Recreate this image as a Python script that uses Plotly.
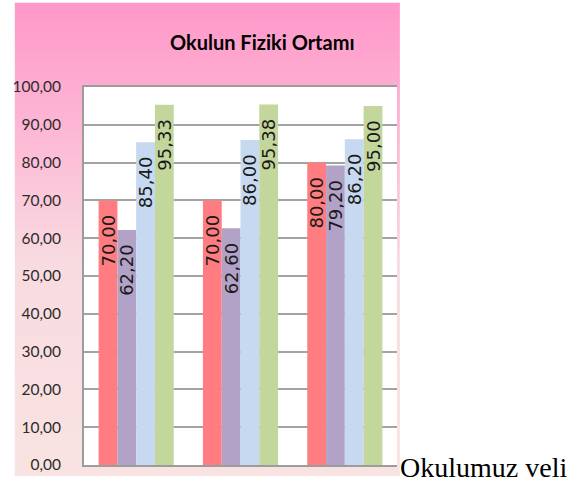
import base64
import plotly.graph_objects as go

# ---- data ----
categories = ["1", "2", "3"]
series_names = ["Seri 1", "Seri 2", "Seri 3", "Seri 4"]
series_1 = [70.00, 70.00, 80.00]
series_2 = [62.20, 62.60, 79.20]
series_3 = [85.40, 86.00, 86.20]
series_4 = [95.33, 95.38, 95.00]
y_ticks = [0, 10, 20, 30, 40, 50, 60, 70, 80, 90, 100]
title_text = "Okulun Fiziki Ortamı"
side_text = "Okulumuz veli"

series_values = [series_1, series_2, series_3, series_4]
colors = ["#FF7C80", "#B3A2C7", "#C6D9F1", "#C3D69B"]

PAD_SPAN = '<span style="color:rgba(0,0,0,0)">0</span>'


def fmt(v):
    return f"{v:.2f}".replace(".", ",") + PAD_SPAN


fig = go.Figure()
for name, vals, col in zip(series_names, series_values, colors):
    fig.add_trace(go.Bar(
        x=categories, y=vals, name=name,
        marker=dict(color=col, line=dict(width=0)),
        text=[fmt(v) for v in vals],
        textposition="inside", insidetextanchor="end",
        textangle=-90, constraintext="none",
        textfont=dict(family="DejaVu Sans", size=18, color="#1a1a1a"),
        hoverinfo="skip",
    ))

# gradient background image (svg)
svg = (
    '<svg xmlns="http://www.w3.org/2000/svg" width="100" height="100" preserveAspectRatio="none">'
    '<defs><linearGradient id="g" x1="0" y1="0" x2="0" y2="1">'
    '<stop offset="0" stop-color="#FF97C9"/>'
    '<stop offset="0.25" stop-color="#FDB5D4"/>'
    '<stop offset="0.55" stop-color="#F8DBE0"/>'
    '<stop offset="1" stop-color="#F9E3E2"/>'
    '</linearGradient></defs>'
    '<rect x="0" y="0" width="100" height="100" fill="url(#g)"/></svg>'
)
src = "data:image/svg+xml;base64," + base64.b64encode(svg.encode()).decode()

L, R, T, B = 77, 178, 87, 18
PW, PH = 575 - L - R, 485 - T - B


def px_x(x):
    return (x - L) / PW


def px_y(y):
    return (485 - B - y) / PH


fig.add_layout_image(dict(
    source=src, xref="paper", yref="paper",
    x=px_x(6), y=px_y(2), sizex=px_x(400) - px_x(6), sizey=px_y(2) - px_y(478),
    xanchor="left", yanchor="top", sizing="stretch", layer="below",
))

fig.add_shape(type="rect", xref="x domain", yref="y domain",
              x0=0, x1=1, y0=0, y1=1, fillcolor="white",
              line=dict(width=0), layer="below")

fig.add_annotation(text=title_text, xref="paper", yref="paper",
                   x=px_x(259), y=px_y(42), xanchor="center", yanchor="middle",
                   showarrow=False,
                   font=dict(family="Lato", size=20, color="#000000", weight="bold"))

fig.add_annotation(text=side_text, xref="paper", yref="paper",
                   x=px_x(398), y=px_y(487), xanchor="left", yanchor="bottom",
                   showarrow=False,
                   font=dict(family="Liberation Serif", size=28, color="#000000"))

fig.update_layout(
    width=575, height=485,
    margin=dict(l=L, r=R, t=T, b=B, pad=0),
    paper_bgcolor="white", plot_bgcolor="rgba(0,0,0,0)",
    barmode="group", bargap=0.28, bargroupgap=0,
    showlegend=False,
    separators=",.",
    xaxis=dict(showticklabels=False, ticks="", showgrid=False,
               showline=True, linecolor="#9c9c9c", linewidth=2, mirror=True,
               fixedrange=True),
    yaxis=dict(range=[0, 100], tickvals=y_ticks, tickformat=".2f",
               showgrid=True, gridcolor="#a3a3a3", gridwidth=1.5,
               showline=True, linecolor="#9c9c9c", linewidth=2,
               ticks="", ticklabelstandoff=18, zeroline=False,
               tickfont=dict(family="Lato", size=15.5, color="#2b2b2b"),
               fixedrange=True),
)

fig.write_html("out.html", config={"displayModeBar": False},
               post_script="document.body.style.margin='0';")
